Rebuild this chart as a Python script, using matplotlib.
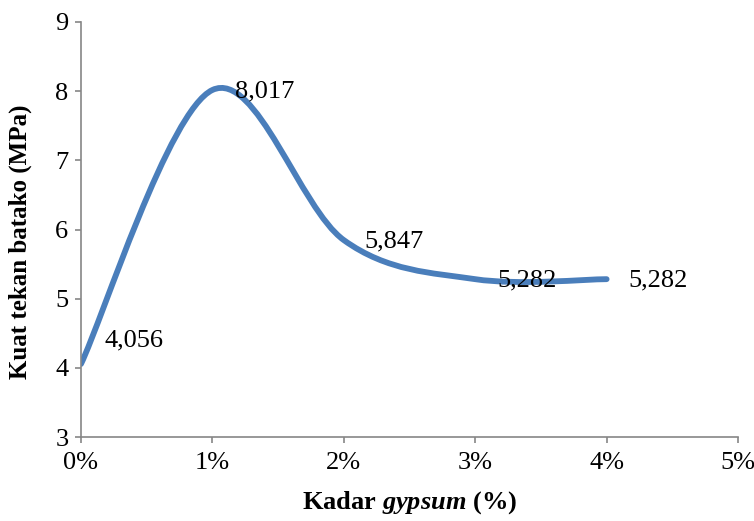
import matplotlib.pyplot as plt
from matplotlib.path import Path
from matplotlib.patches import PathPatch
from matplotlib.ticker import FuncFormatter

# data
kadar = [0, 1, 2, 3, 4]              # gypsum content (%)
kuat = [4.056, 8.017, 5.847, 5.282, 5.282]   # compressive strength (MPa)
labels = ['4,056', '8,017', '5,847', '5,282', '5,282']
label_offsets = [(17, 17), (16, -1), (15, -1), (16, -1), (16, -1)]  # points

plt.rcParams['font.family'] = 'Liberation Serif'
plt.rcParams['mathtext.fontset'] = 'custom'
plt.rcParams['mathtext.rm'] = 'Liberation Serif:bold'
plt.rcParams['mathtext.it'] = 'Liberation Serif:italic:bold'
plt.rcParams['mathtext.bf'] = 'Liberation Serif:bold'

fig = plt.figure(figsize=(7.54, 5.21), dpi=100)
ax = fig.add_axes([0.1074, 0.1612, 0.8714, 0.7966])

# Excel-like smoothed line (cubic Bezier through the points)
verts = [(kadar[0], kuat[0])]
codes = [Path.MOVETO]
n = len(kadar)
for i in range(n - 1):
    p0 = (kadar[max(i - 1, 0)], kuat[max(i - 1, 0)])
    p1 = (kadar[i], kuat[i])
    p2 = (kadar[i + 1], kuat[i + 1])
    p3 = (kadar[min(i + 2, n - 1)], kuat[min(i + 2, n - 1)])
    c1 = (p1[0] + (p2[0] - p0[0]) / 6, p1[1] + (p2[1] - p0[1]) / 6)
    c2 = (p2[0] - (p3[0] - p1[0]) / 6, p2[1] - (p3[1] - p1[1]) / 6)
    verts += [c1, c2, p2]
    codes += [Path.CURVE4] * 3
ax.add_patch(PathPatch(Path(verts, codes), facecolor='none', edgecolor='#4A7EBB',
                       lw=4.2, capstyle='round', joinstyle='round'))

for x, y, s, off in zip(kadar, kuat, labels, label_offsets):
    ax.annotate(s, (x, y), xytext=off, textcoords='offset points',
                ha='left', va='center', fontsize=19)

ax.set_xlim(0, 5)
ax.set_ylim(3, 9)
ax.set_xticks([0, 1, 2, 3, 4, 5])
ax.set_yticks([3, 4, 5, 6, 7, 8, 9])
ax.xaxis.set_major_formatter(FuncFormatter(lambda v, p: '%d%%' % v))
ax.tick_params(labelsize=19, colors='#868686', labelcolor='black', length=4, width=1.2)
ax.tick_params(axis='x', pad=7)
ax.tick_params(axis='y', pad=5)
for s in ['top', 'right']:
    ax.spines[s].set_visible(False)
for s in ['left', 'bottom']:
    ax.spines[s].set_color('#868686')
    ax.spines[s].set_linewidth(1.2)

ax.set_xlabel(r'$\mathrm{Kadar}\ \mathit{gypsum}\ \mathrm{(\%)}$', fontsize=19, labelpad=11)
ax.set_ylabel('Kuat tekan batako (MPa)', fontsize=18, fontweight='bold')
ax.yaxis.set_label_coords(-0.074, 0.47)

fig.savefig('out.png', dpi=100)
